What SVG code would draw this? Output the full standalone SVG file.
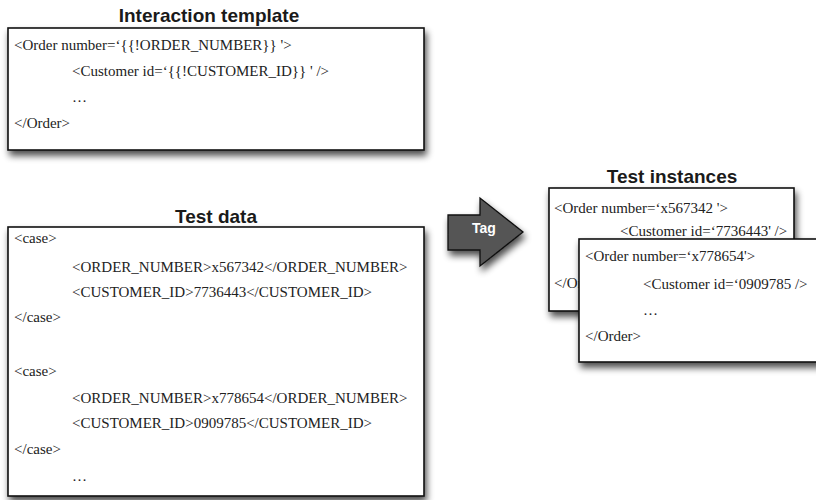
<svg xmlns="http://www.w3.org/2000/svg" width="816" height="500" viewBox="0 0 816 500">
<style>
.box{fill:#fff;stroke:#111;stroke-width:1.6}
.title{font-family:"Liberation Sans",Arial,sans-serif;font-weight:bold;font-size:19px;fill:#1a1a1a;text-anchor:middle}
.code{font-family:"Liberation Serif","Times New Roman",serif;font-size:15px;fill:#222}
.tag{font-family:"Liberation Sans",Arial,sans-serif;font-weight:bold;font-size:14px;fill:#fff;text-anchor:middle}
</style>
<defs>
<filter id="sh" x="-10%" y="-10%" width="125%" height="130%">
<feGaussianBlur in="SourceAlpha" stdDeviation="3.5"/>
<feOffset dx="2" dy="5" result="b"/>
<feComponentTransfer><feFuncA type="linear" slope="0.7"/></feComponentTransfer>
<feMerge><feMergeNode/><feMergeNode in="SourceGraphic"/></feMerge>
</filter>
</defs>
<rect width="816" height="500" fill="#fff"/>
<g id="interaction-template">
<text class="title" x="209" y="22">Interaction template</text>
<rect class="box" x="8" y="28" width="416" height="122" filter="url(#sh)"/>
<text class="code" x="14" y="50">&lt;Order number=‘{{!ORDER_NUMBER}} '&gt;</text>
<text class="code" x="72" y="76">&lt;Customer id=‘{{!CUSTOMER_ID}} ' /&gt;</text>
<text class="code" x="72" y="102">…</text>
<text class="code" x="14" y="128">&lt;/Order&gt;</text>
</g>
<g id="test-data">
<text class="title" x="216" y="223">Test data</text>
<rect class="box" x="8" y="227" width="416" height="269" filter="url(#sh)"/>
<text class="code" x="14" y="243">&lt;case&gt;</text>
<text class="code" x="72" y="272">&lt;ORDER_NUMBER&gt;x567342&lt;/ORDER_NUMBER&gt;</text>
<text class="code" x="72" y="297">&lt;CUSTOMER_ID&gt;7736443&lt;/CUSTOMER_ID&gt;</text>
<text class="code" x="14" y="322">&lt;/case&gt;</text>
<text class="code" x="14" y="376">&lt;case&gt;</text>
<text class="code" x="72" y="403">&lt;ORDER_NUMBER&gt;x778654&lt;/ORDER_NUMBER&gt;</text>
<text class="code" x="72" y="428">&lt;CUSTOMER_ID&gt;0909785&lt;/CUSTOMER_ID&gt;</text>
<text class="code" x="14" y="454">&lt;/case&gt;</text>
<text class="code" x="72" y="481">…</text>
</g>
<g id="connectors">
<g id="tag">
<path d="M448,215 L480,215 L480,198 L523,232 L480,266 L480,250 L448,250 Z" fill="#555" stroke="#111" stroke-width="1.3" stroke-linejoin="miter" filter="url(#sh)"/>
<text class="tag" x="484" y="233">Tag</text>
</g>
</g>
<g id="test-instances">
<text class="title" x="672" y="183">Test instances</text>
<g id="instance-1">
<rect class="box" x="549" y="188" width="245" height="123" filter="url(#sh)"/>
<text class="code" x="554" y="213">&lt;Order number=‘x567342 '&gt;</text>
<text class="code" x="620" y="236">&lt;Customer id=‘7736443' /&gt;</text>
<text class="code" x="554" y="288">&lt;/Order&gt;</text>
</g>
<g id="instance-2">
<rect class="box" x="579" y="239" width="245" height="123" filter="url(#sh)"/>
<text class="code" x="585" y="261">&lt;Order number=‘x778654'&gt;</text>
<text class="code" x="643" y="289">&lt;Customer id=‘0909785 /&gt;</text>
<text class="code" x="643" y="315">…</text>
<text class="code" x="585" y="341">&lt;/Order&gt;</text>
</g>
</g>
</svg>
